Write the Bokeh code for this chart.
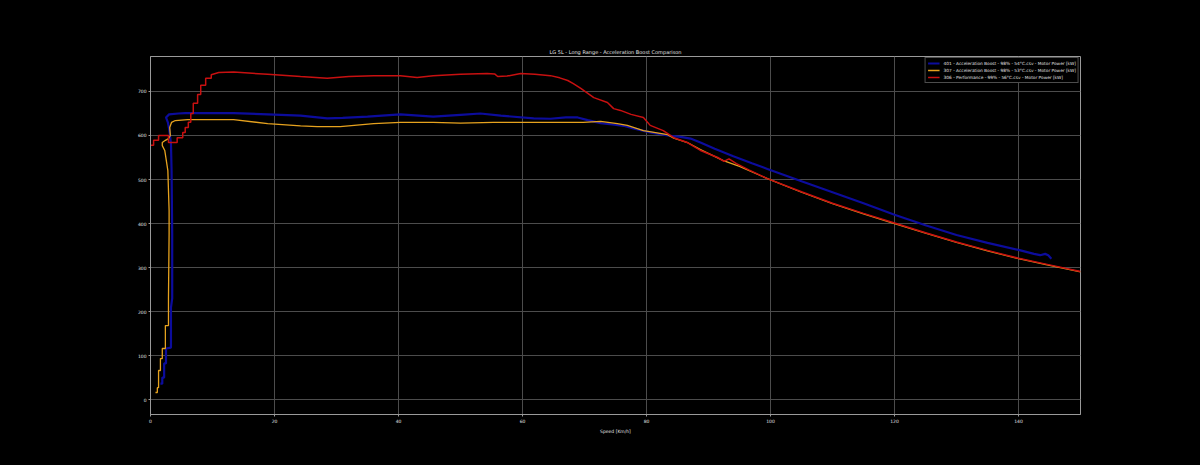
from bokeh.plotting import figure
from bokeh.models import FixedTicker, Legend, LegendItem
from bokeh.embed import file_html
from bokeh.resources import INLINE

title_text = "LG 5L - Long Range - Acceleration Boost Comparison"
x_label = "Speed [Km/h]"
x_ticks = [0, 20, 40, 60, 80, 100, 120, 140]
y_ticks = [0, 100, 200, 300, 400, 500, 600, 700]

label_401 = "401 - Acceleration Boost - 98% - 54°C.csv - Motor Power [kW]"
label_307 = "307 - Acceleration Boost - 98% - 53°C.csv - Motor Power [kW]"
label_306 = "306 - Performance - 99% - 56°C.csv - Motor Power [kW]"

# 401 - Acceleration Boost (blue)
speed_401 = [1.6, 1.9, 1.9, 2.2, 2.2, 2.5, 2.5, 3.3, 3.3, 3.5, 3.5, 3.4, 3.3, 3.0, 2.8, 2.5,
             3.0, 4.5, 5.6, 8.1, 13.4, 18.9, 24.2, 28.5, 31, 35, 40.3, 45.6, 50, 53.2, 56.5,
             61.8, 64.5, 67, 68.9, 70.5, 72.6, 74.5, 76.3, 77.9, 80.6, 83.4, 85.5, 87.1,
             88.7, 91, 94, 97, 99.5, 105, 110, 115, 120, 125, 130, 135, 140, 142.5, 143.5,
             144.3, 144.8, 145.3]
power_401 = [36, 36, 50, 50, 82, 82, 116, 118, 209, 230, 377, 520, 582, 615, 630, 641,
             648, 650, 651, 651, 651, 648, 645, 639, 640, 643, 648, 643, 647, 650, 645,
             639, 638, 641, 641, 635, 628, 625, 622, 616, 607, 600, 597, 593,
             584, 570, 553, 537, 524, 496, 471, 446, 420, 396, 374, 356, 340, 331, 328,
             331, 328, 320]

# 307 - Acceleration Boost (orange)
speed_307 = [0.8, 1.1, 1.1, 1.3, 1.3, 1.6, 1.6, 1.9, 1.9, 2.4, 2.4, 2.9, 2.9, 3.0, 3.0, 2.8,
             2.3, 1.9, 1.9, 2.4, 2.9, 3.2, 3.1, 3.4, 4.0, 6.0, 8.1, 13.4, 18.9, 24.2, 26.9,
             30.6, 36, 40.3, 45.6, 50, 55.3, 60, 64.5, 69.8, 72.6, 75.3, 76.9, 79.5, 83.4,
             84.4, 86.6, 88.7, 92.4, 95, 99.5, 105, 110, 115, 120, 125, 130, 135, 140,
             145, 150]
power_307 = [16, 16, 27, 27, 66, 66, 93, 93, 116, 116, 168, 168, 230, 377, 430, 520,
             566, 577, 584, 589, 593, 600, 618, 630, 634, 636, 636, 636, 627, 622, 620,
             620, 627, 630, 630, 628, 630, 630, 630, 630, 632, 627, 623, 611, 602,
             594, 584, 568, 543, 530, 502, 471, 445, 422, 400, 378, 357, 338, 320,
             305, 290]

# 306 - Performance (red)
speed_306 = [0, 0.5, 0.5, 1.3, 1.3, 2.9, 2.9, 4.3, 4.3, 5.2, 5.2, 5.6, 5.6, 6.1, 6.1, 6.5,
             6.5, 6.9, 6.9, 7.6, 7.6, 8.1, 8.1, 8.9, 8.9, 9.8, 9.8, 11, 13.4, 18.9, 24.2,
             28.5, 32, 36, 40.3, 43, 45.6, 50, 54.3, 55.5, 56, 57.5, 59.7, 62, 64.5, 66,
             67.3, 68.2, 69.4, 71.5, 73.7, 74.7, 75.8, 77.5, 79.5, 80.6, 82.7, 84.4, 86.6,
             88.7, 91.5, 92.5, 93.3, 94.5, 96.5, 99.5, 105, 110, 115, 120, 125, 130, 135,
             140, 145, 150]
power_306 = [578, 578, 589, 589, 600, 600, 584, 584, 595, 595, 607, 607, 618, 618, 630, 630,
             650, 650, 673, 673, 693, 693, 714, 714, 730, 730, 738, 743, 744, 739, 734,
             730, 734, 736, 736, 732, 736, 739, 741, 740, 734, 735, 741, 739, 736, 731,
             725, 718, 707, 686, 675, 661, 657, 648, 641, 623, 611, 595, 584,
             566, 550, 541, 547, 536, 522, 502, 472, 446, 423, 401, 379, 358, 339,
             321, 306, 291]

p = figure(width=1200, height=465, x_range=(0, 150), y_range=(-34, 779.5),
           output_backend="svg", toolbar_location=None,
           min_border_left=150, min_border_right=120, min_border_top=56, min_border_bottom=51,
           background_fill_color="black", border_fill_color="black")

p.title.text = title_text
p.title.align = "center"
p.title.text_color = "#e0e0e0"
p.title.text_font = "DejaVu Sans"
p.title.text_font_size = "5px"
p.title.text_font_style = "normal"
p.title.standoff = 3

p.outline_line_color = "#9a9a9a"
p.outline_line_width = 1

for ax in (p.xaxis[0], p.yaxis[0]):
    ax.axis_line_color = "#9a9a9a"
    ax.major_tick_line_color = "#9a9a9a"
    ax.minor_tick_line_color = None
    ax.major_tick_out = 2
    ax.major_tick_in = 0
    ax.major_label_text_color = "#e0e0e0"
    ax.major_label_text_font = "DejaVu Sans"
    ax.major_label_text_font_size = "4.5px"
    ax.major_label_standoff = 2

p.xaxis.ticker = FixedTicker(ticks=x_ticks)
p.yaxis.ticker = FixedTicker(ticks=y_ticks)
p.xaxis.axis_label = x_label
p.xaxis.axis_label_text_color = "#e0e0e0"
p.xaxis.axis_label_text_font = "DejaVu Sans"
p.xaxis.axis_label_text_font_size = "4.5px"
p.xaxis.axis_label_text_font_style = "normal"
p.xaxis.axis_label_standoff = 3

p.grid.grid_line_color = "#4c4c4c"
p.grid.grid_line_width = 1

r1 = p.line(speed_401, power_401, line_color="#0c0c9c", line_width=2.2)
r2 = p.line(speed_307, power_307, line_color="#e6a21e", line_width=1.3)
r3 = p.line(speed_306, power_306, line_color="#c81010", line_width=1.5)

legend = Legend(items=[LegendItem(label=label_401, renderers=[r1]),
                       LegendItem(label=label_307, renderers=[r2]),
                       LegendItem(label=label_306, renderers=[r3])],
                location="top_right")
legend.background_fill_color = "black"
legend.background_fill_alpha = 1
legend.border_line_color = "#9a9a9a"
legend.label_text_color = "#e0e0e0"
legend.label_text_font = "DejaVu Sans"
legend.label_text_font_size = "4.3px"
legend.label_height = 6
legend.glyph_height = 6
legend.glyph_width = 12
legend.spacing = 1
legend.padding = 2
legend.margin = 1
legend.label_standoff = 4
p.add_layout(legend, "center")

html = file_html(p, INLINE)
html = html.replace("<head>", "<head><style>html,body{margin:0;padding:0;background:#000;}</style>", 1)
open("out.html", "w").write(html)
